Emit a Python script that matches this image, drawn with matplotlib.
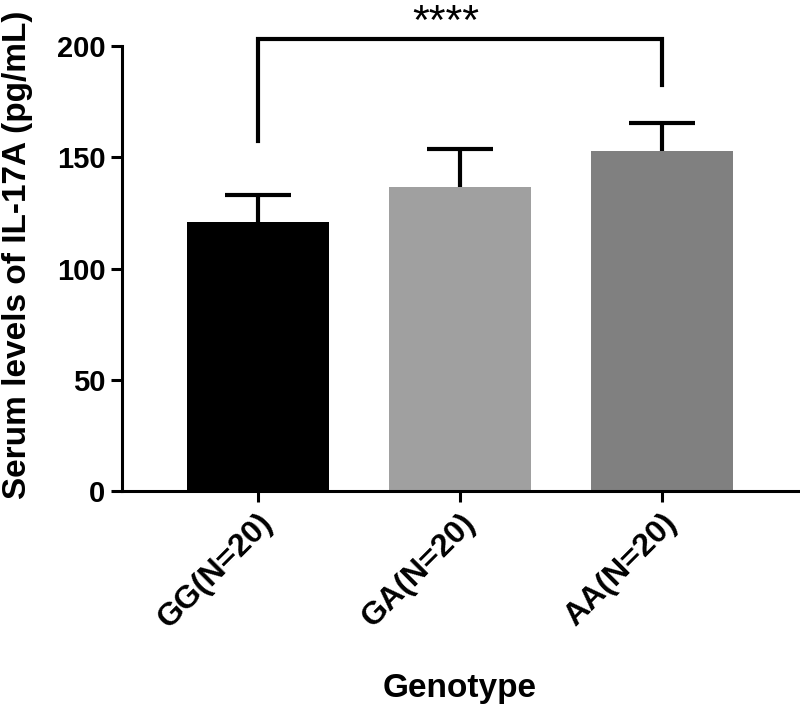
import numpy as np
import matplotlib.pyplot as plt

plt.rcParams['font.family'] = ['Liberation Sans', 'DejaVu Sans']
plt.rcParams['font.weight'] = 'bold'

# data
groups = ['GG(N=20)', 'GA(N=20)', 'AA(N=20)']
means = [121, 136.5, 152.8]
sd = [12, 17.3, 12.6]
colors = ['#000000', '#a0a0a0', '#808080']
sig_label = '****'

fig = plt.figure(figsize=(8, 7.12), dpi=100)
ax = fig.add_axes([122 / 800, 221 / 712, 676 / 800, 445 / 712])

x = np.arange(len(groups))
ax.bar(x, means, width=0.70, color=colors, zorder=2)

# one-sided error bars (upper only)
tops = np.array(means) + np.array(sd)
ax.vlines(x, means, tops, color='black', lw=3, zorder=3)
ax.hlines(tops, x - 0.165, x + 0.165, color='black', lw=3, zorder=3)

# significance bracket GG vs AA
bx = [0, 0, 2, 2]
by = [157.4, 203, 203, 182.4]
ax.plot(bx, by, color='black', lw=3, clip_on=False, solid_joinstyle='miter')
ax.text(0.93, 205.2, sig_label, ha='center', va='baseline', fontsize=31,
        fontweight='normal', clip_on=False)

ax.set_xlim(-0.674, 2.674)
ax.set_ylim(0, 200)
ax.set_yticks([0, 50, 100, 150, 200])
ax.set_xticks(x)
ax.set_xticklabels(groups, rotation=45, ha='right', rotation_mode='anchor')

for s in ['top', 'right']:
    ax.spines[s].set_visible(False)
for s in ['left', 'bottom']:
    ax.spines[s].set_linewidth(2.2)

ax.tick_params(axis='both', width=2.2, length=8, pad=4)
ax.tick_params(axis='y', labelsize=21)
ax.tick_params(axis='x', labelsize=23)
ax.set_ylabel('Serum levels of IL-17A (pg/mL)', fontsize=24, fontweight='bold')
ax.yaxis.set_label_coords(-0.131, 0.53)
ax.set_xlabel('Genotype', fontsize=24, fontweight='bold', labelpad=28)

fig.savefig('out.png', dpi=100)
